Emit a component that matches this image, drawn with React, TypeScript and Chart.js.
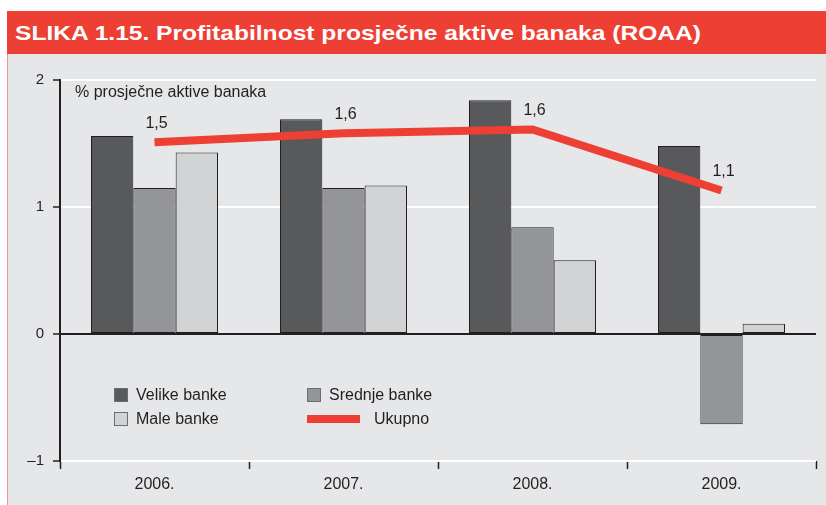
import React, { useEffect, useLayoutEffect, useRef } from "react";
import { Chart, registerables } from "chart.js";
Chart.register(...registerables);

const categories = ["2006.", "2007.", "2008.", "2009."];
const velikeBanke = [1.56, 1.69, 1.84, 1.48];
const srednjeBanke = [1.15, 1.15, 0.84, -0.71];
const maleBanke = [1.43, 1.17, 0.58, 0.08];
const ukupno = [1.51, 1.58, 1.61, 1.13];
const ukupnoLabels = ["1,5", "1,6", "1,6", "1,1"];
const seriesNames = ["Velike banke", "Srednje banke", "Male banke", "Ukupno"];
const yMin = -1;
const yMax = 2;
const titleText = "SLIKA 1.15. Profitabilnost prosječne aktive banaka (ROAA)";
const axisTitle = "% prosječne aktive banaka";

const DARK = "#231f20";
const RED = "#ee3f35";
const BG = "#e6e7e8";
const C_VELIKE = "#58595b";
const C_SREDNJE = "#939598";
const C_MALE = "#d1d3d4";
const FONT = '"Liberation Sans", Arial, Helvetica, sans-serif';

const overlayPlugin = {
  id: "overlay",
  afterDatasetsDraw(chart: any) {
    const { ctx, chartArea: a, scales } = chart;
    const ys = scales.y;
    ctx.save();
    // zero line
    const y0 = ys.getPixelForValue(0);
    ctx.strokeStyle = DARK;
    ctx.lineWidth = 2.2;
    ctx.beginPath();
    ctx.moveTo(a.left, y0);
    ctx.lineTo(a.right, y0);
    ctx.stroke();

    // line value labels
    const meta = chart.getDatasetMeta(3);
    ctx.font = "16px " + FONT;
    ctx.fillStyle = DARK;
    ctx.textAlign = "center";
    ctx.textBaseline = "middle";
    meta.data.forEach((pt: any, i: number) => {
      ctx.fillText(ukupnoLabels[i], pt.x + 2, pt.y - 19);
    });

    // axis title
    ctx.textAlign = "left";
    ctx.fillText(axisTitle, a.left + 15, a.top + 13);

    // legend
    const ds = chart.data.datasets;
    const items = [
      { i: 0, col: 0, row: 0 },
      { i: 1, col: 1, row: 0 },
      { i: 2, col: 0, row: 1 },
      { i: 3, col: 1, row: 1 },
    ];
    items.forEach(({ i, col, row }) => {
      const x = a.left + (col === 0 ? 54 : 247);
      const cy = a.bottom - 66 + row * 24;
      const d = ds[i];
      if (d.type === "line") {
        ctx.fillStyle = d.borderColor;
        ctx.fillRect(x, cy - 4, 53, 8);
        ctx.fillStyle = DARK;
        ctx.fillText(d.label, x + 67, cy + 1);
      } else {
        ctx.fillStyle = d.backgroundColor;
        ctx.fillRect(x, cy - 7, 14, 14);
        ctx.strokeStyle = "#6d6e71";
        ctx.lineWidth = 1;
        ctx.strokeRect(x + 0.5, cy - 6.5, 13, 13);
        ctx.fillStyle = DARK;
        ctx.fillText(d.label, x + 22, cy + 1);
      }
    });
    ctx.restore();
  },
};

function ChartView() {
  const ref = useRef<HTMLCanvasElement>(null);
  useEffect(() => {
    if (!ref.current) return;
    const barCommon = {
      type: "bar" as const,
      borderColor: DARK,
      borderWidth: 1,
      borderSkipped: false,
      categoryPercentage: 0.672,
      barPercentage: 1,
      order: 1,
    };
    const chart = new Chart(ref.current, {
      type: "bar",
      data: {
        labels: categories,
        datasets: [
          { ...barCommon, label: seriesNames[0], data: velikeBanke, backgroundColor: C_VELIKE },
          { ...barCommon, label: seriesNames[1], data: srednjeBanke, backgroundColor: C_SREDNJE },
          { ...barCommon, label: seriesNames[2], data: maleBanke, backgroundColor: C_MALE },
          {
            type: "line",
            label: seriesNames[3],
            data: ukupno,
            borderColor: RED,
            backgroundColor: RED,
            borderWidth: 8,
            pointRadius: 0,
            tension: 0,
            fill: false,
            borderCapStyle: "butt",
            borderJoinStyle: "miter",
            order: 0,
          } as any,
        ],
      },
      options: {
        responsive: false,
        animation: false,
        devicePixelRatio: 1,
        layout: { padding: { left: 0, right: 10, top: 26, bottom: 0 } },
        plugins: { legend: { display: false }, tooltip: { enabled: false } },
        scales: {
          x: {
            offset: true,
            afterFit: (s: any) => {
              s.height = 44;
            },
            grid: {
              offset: true,
              drawOnChartArea: false,
              drawTicks: true,
              tickLength: 8,
              tickColor: DARK,
              tickWidth: 1.5,
            },
            border: { display: false },
            ticks: {
              color: DARK,
              font: { family: FONT, size: 16 },
              padding: 6,
              maxRotation: 0,
            },
          },
          y: {
            min: yMin,
            max: yMax,
            afterFit: (s: any) => {
              s.width = 60;
            },
            grid: {
              color: (c: any) => (c.tick && c.tick.value === 0 ? "rgba(0,0,0,0)" : "#ffffff"),
              lineWidth: 2,
              drawTicks: true,
              tickLength: 7,
              tickColor: DARK,
              tickWidth: 1.5,
            },
            border: { display: true, color: DARK, width: 2 },
            ticks: {
              stepSize: 1,
              color: DARK,
              font: { family: FONT, size: 15 },
              padding: 9,
              callback: (v: any) => (Number(v) < 0 ? "\u2013" + Math.abs(Number(v)) : String(v)),
            },
          },
        },
      },
      plugins: [overlayPlugin],
    } as any);
    return () => chart.destroy();
  }, []);
  return (
    <canvas
      ref={ref}
      width={826}
      height={451}
      style={{ position: "absolute", left: 0, top: 54, width: 826, height: 451 }}
    />
  );
}

export default function App() {
  const titleRef = useRef<HTMLSpanElement>(null);
  useLayoutEffect(() => {
    const el = titleRef.current;
    if (!el) return;
    el.style.transform = "none";
    const w = el.getBoundingClientRect().width;
    if (w > 0) el.style.transform = `scaleX(${686 / w})`;
  }, []);
  return (
    <div style={{ position: "absolute", left: 0, top: 0, width: 826, height: 505, background: "#ffffff", overflow: "hidden" }}>
      <div style={{ position: "absolute", left: 7, top: 11, width: 819, height: 43, background: RED }} />
      <span
        ref={titleRef}
        style={{
          position: "absolute",
          left: 15,
          top: 22,
          display: "inline-block",
          whiteSpace: "nowrap",
          fontFamily: FONT,
          fontWeight: "bold",
          fontSize: 21,
          lineHeight: "21px",
          color: "#ffffff",
          transformOrigin: "0 0",
        }}
      >
        {titleText}
      </span>
      <div
        style={{
          position: "absolute",
          left: 7,
          top: 54,
          width: 819,
          height: 451,
          background: BG,
          borderLeft: "1.5px solid #f4958e",
          boxSizing: "border-box",
        }}
      />
      <ChartView />
    </div>
  );
}
